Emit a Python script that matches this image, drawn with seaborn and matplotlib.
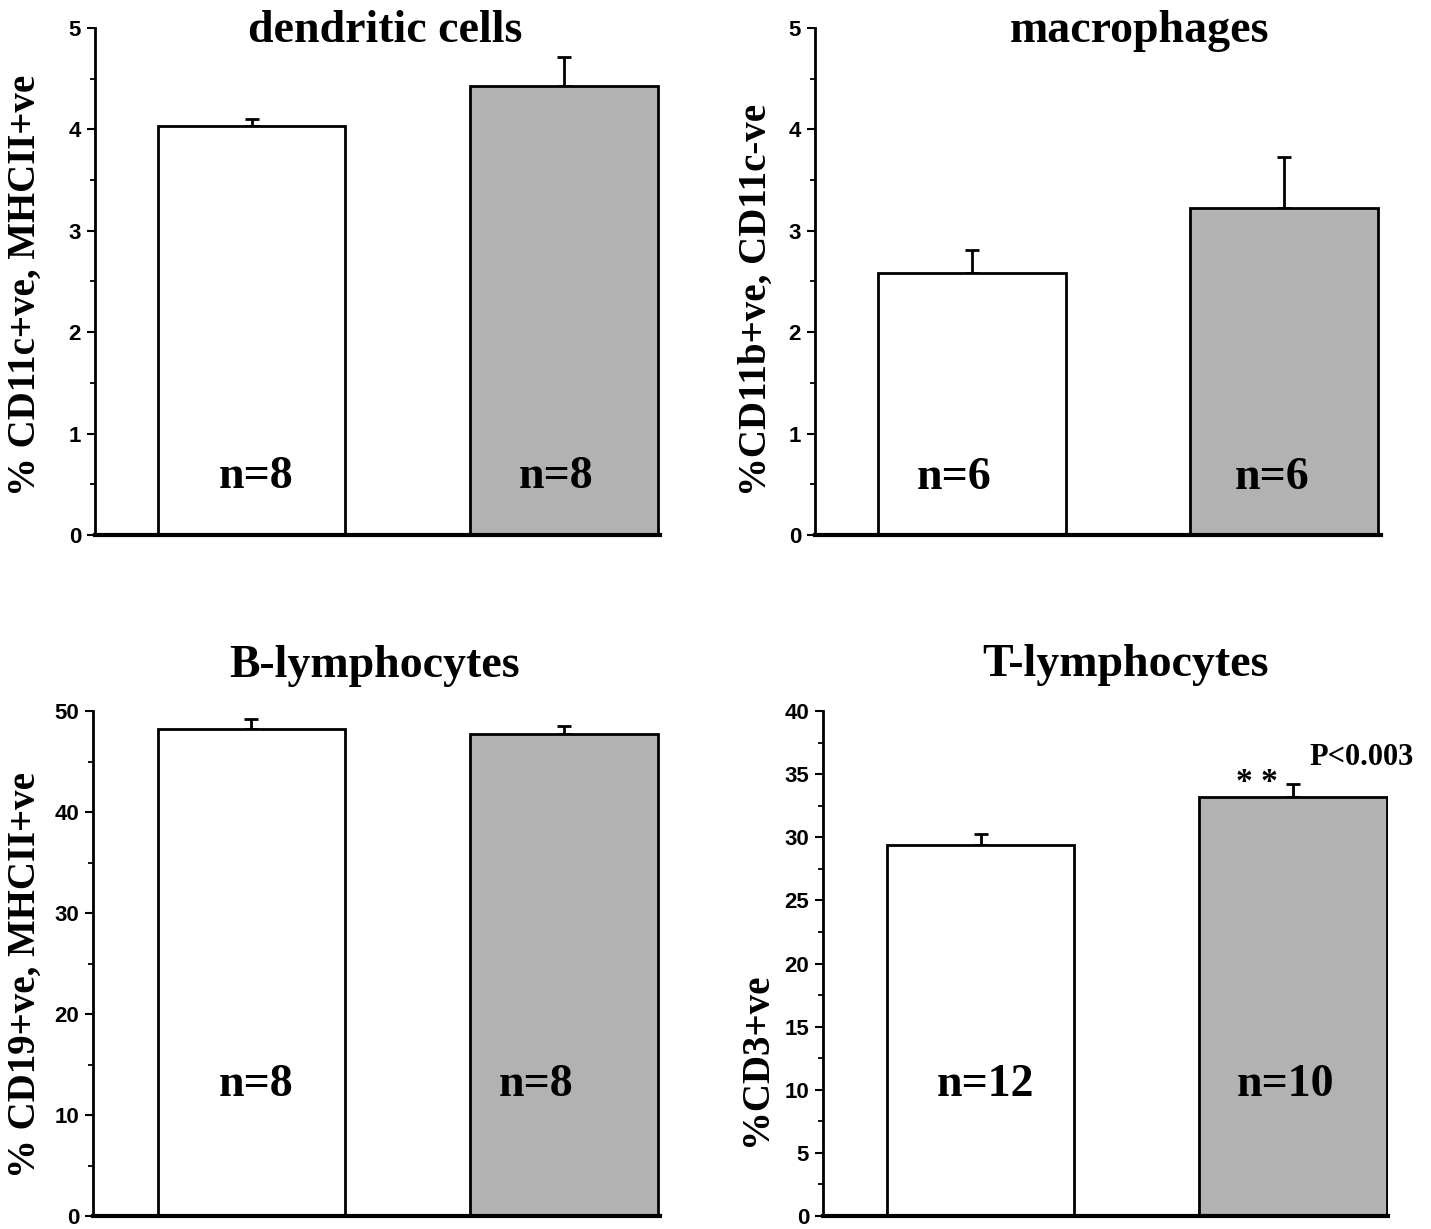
import matplotlib
matplotlib.use("Agg")
import matplotlib.pyplot as plt
from matplotlib.ticker import MultipleLocator
import seaborn as sns
import pandas as pd

# ---- data ----
groups = ["control", "treated"]
panel_titles = ["dendritic cells", "macrophages", "B-lymphocytes", "T-lymphocytes"]
ylabels = ["% CD11c+ve, MHCII+ve", "%CD11b+ve, CD11c-ve", "% CD19+ve, MHCII+ve", "%CD3+ve"]
dc_means = [4.03, 4.43]
dc_err = [0.07, 0.28]
mac_means = [2.58, 3.22]
mac_err = [0.23, 0.51]
b_means = [48.2, 47.7]
b_err = [1.0, 0.8]
t_means = [29.35, 33.2]
t_err = [0.9, 1.0]
dc_n = ["n=8", "n=8"]
mac_n = ["n=6", "n=6"]
b_n = ["n=8", "n=8"]
t_n = ["n=12", "n=10"]
ymax = [5, 5, 50, 40]
ymajor = [1, 1, 10, 5]

sns.set_theme(style="ticks")
plt.rcParams["font.family"] = ["Liberation Serif", "DejaVu Serif"]
for k in ["text.color", "axes.labelcolor", "xtick.color", "ytick.color", "axes.edgecolor"]:
    plt.rcParams[k] = "black"

fig = plt.figure(figsize=(14.31, 12.29), dpi=100)

W, H = 1431, 1229
# pixel boxes: left, right, top, bottom
boxes = [(95, 660, 28, 535), (815, 1381, 28, 535), (93, 660, 711, 1216), (823, 1388, 711, 1216)]
xlims = [(-0.501, 1.307), (-0.503, 1.311), (-0.507, 1.307), (-0.505, 1.304)]
means_all = [dc_means, mac_means, b_means, t_means]
err_all = [dc_err, mac_err, b_err, t_err]
n_all = [dc_n, mac_n, b_n, t_n]
n_y = [0.57, 0.56, 13.0, 10.4]
n_x = [(0.014, 0.974), (-0.058, 0.963), (0.014, 0.91), (0.016, 0.976)]
title_pos = [(0.513, 0.972), (0.574, 0.972), (0.497, 1.067), (0.535, 1.069)]
ylab_pos = [(-0.124, 0.493), (-0.104, 0.464), (-0.12, 0.477), (-0.118, 0.31)]

tick_font = {"family": ["Liberation Sans Narrow", "Liberation Sans", "DejaVu Sans"],
             "weight": "bold", "size": 16}

for i in range(4):
    l, r, t, b = boxes[i]
    ax = fig.add_axes([l / W, 1 - b / H, (r - l) / W, (b - t) / H])
    df = pd.DataFrame({"group": groups, "value": means_all[i]})
    sns.barplot(data=df, x="group", y="value", hue="group",
                palette=["white", "#b2b2b2"], edgecolor="black", linewidth=2,
                width=0.6, errorbar=None, legend=False, ax=ax, zorder=2)
    ax.errorbar([0, 1], means_all[i], yerr=[[0, 0], err_all[i]], fmt="none",
                ecolor="black", elinewidth=2, capsize=5, capthick=2, zorder=1)
    ax.set_xlim(*xlims[i])
    ax.set_ylim(0, ymax[i])
    ticks = list(range(0, ymax[i] + 1, ymajor[i]))
    ax.set_yticks(ticks)
    ax.set_yticklabels([str(v) for v in ticks], va="center_baseline", **tick_font)
    ax.yaxis.set_minor_locator(MultipleLocator(ymajor[i] / 2))
    ax.tick_params(axis="y", which="major", length=6, width=1.5, pad=4, direction="out")
    ax.tick_params(axis="y", which="minor", length=3.6, width=1.3, direction="out")
    ax.set_xticks([])
    ax.set_xlabel("")
    ax.set_ylim(0, ymax[i])
    sns.despine(ax=ax)
    ax.spines["left"].set_linewidth(2)
    ax.spines["bottom"].set_linewidth(3)
    ax.set_ylabel(ylabels[i], fontsize=28, fontweight="bold", va="center")
    ax.yaxis.set_label_coords(*ylab_pos[i])
    ax.text(title_pos[i][0], title_pos[i][1], panel_titles[i], transform=ax.transAxes,
            ha="center", va="baseline", fontsize=33, fontweight="bold")
    for j in range(2):
        ax.text(n_x[i][j], n_y[i], n_all[i][j], ha="center", va="center",
                fontsize=33, fontweight="bold")
    ax.set_facecolor("white")
    if i == 3:
        ax.text(0.883, 34.3, "* *", ha="center", va="center", fontsize=24, fontweight="bold")
        ax.text(1.22, 36.3, "P<0.003", ha="center", va="center", fontsize=22, fontweight="bold")

fig.savefig("out.png", dpi=100, facecolor="white")
